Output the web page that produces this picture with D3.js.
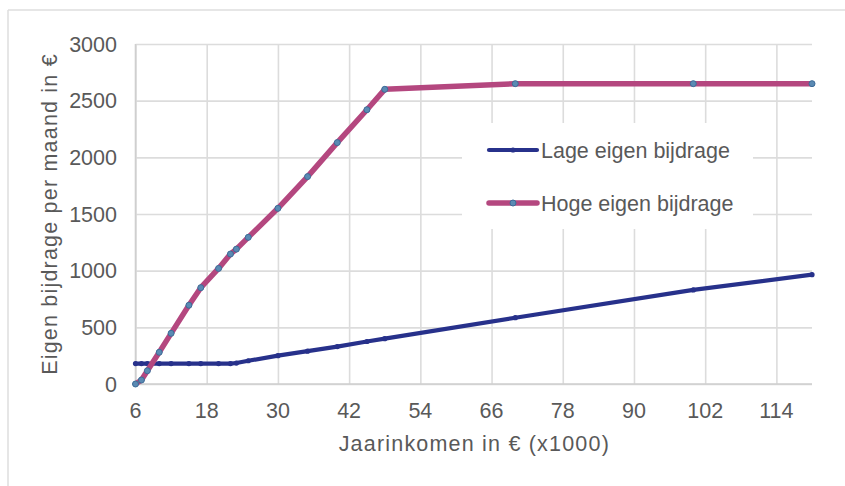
<!DOCTYPE html>
<html>
<head>
<meta charset="utf-8">
<script src="https://cdn.jsdelivr.net/npm/d3@7"></script>
<style>
  html, body { margin: 0; padding: 0; background: #ffffff; }
  svg { display: block; }
  text { font-family: "Liberation Sans", Arial, sans-serif; fill: #595959; }
</style>
</head>
<body>
<svg id="chart" width="845" height="486"></svg>
<script>
// ---- data ----
const incomes = [6, 7, 8, 10, 12, 15, 17, 20, 22, 23, 25, 30, 35, 40, 45, 48, 70, 100, 120];
const lageValues = [180, 180, 180, 180, 180, 180, 180, 180, 180, 185, 205, 250, 290, 330, 375, 400, 585, 830, 965];
const hogeValues = [0, 35, 117, 280, 447, 695, 850, 1020, 1147, 1190, 1294, 1550, 1830, 2130, 2420, 2600, 2650, 2650, 2650];
const xTicks = [6, 18, 30, 42, 54, 66, 78, 90, 102, 114];
const yTicks = [0, 500, 1000, 1500, 2000, 2500, 3000];
const seriesNames = ["Lage eigen bijdrage", "Hoge eigen bijdrage"];
const xTitle = "Jaarinkomen in € (x1000)";
const yTitle = "Eigen bijdrage per maand in €";

// ---- layout ----
const svg = d3.select("#chart");
const pLeft = 135.5, pRight = 812, pTop = 44, pBottom = 384;
const x = d3.scaleLinear().domain([6, 120]).range([pLeft, pRight]);
const y = d3.scaleLinear().domain([0, 3000]).range([pBottom, pTop]);

const lageColor = "#27318b";
const hogeColor = "#b4477f";
const markerFill = "#5a8ab3";
const markerStroke = "#3c6c98";
const grid = "#dcdcdc";
const FS = 21;

// outer frame (left and top edges visible)
svg.append("line").attr("x1", 8).attr("x2", 8).attr("y1", 10).attr("y2", 486)
  .attr("stroke", "#dedede").attr("stroke-width", 1.5);
svg.append("line").attr("x1", 8).attr("x2", 845).attr("y1", 10).attr("y2", 10)
  .attr("stroke", "#dedede").attr("stroke-width", 1.5);

// gridlines via axes
const gx = svg.append("g").attr("transform", `translate(0,${pBottom})`)
  .call(d3.axisBottom(x).tickValues(xTicks).tickSize(-(pBottom - pTop)).tickFormat(""));
gx.select(".domain").remove();
gx.selectAll(".tick line").attr("stroke", grid).attr("stroke-width", 1.6);

const gy = svg.append("g").attr("transform", `translate(${pLeft},0)`)
  .call(d3.axisLeft(y).tickValues(yTicks).tickSize(-(pRight - pLeft)).tickFormat(""));
gy.select(".domain").remove();
gy.selectAll(".tick line").attr("stroke", grid).attr("stroke-width", 1.6);

// axis lines
svg.append("line").attr("x1", pLeft).attr("x2", pLeft).attr("y1", pTop).attr("y2", pBottom)
  .attr("stroke", "#cfcfcf").attr("stroke-width", 1.6);
svg.append("line").attr("x1", pLeft).attr("x2", pRight).attr("y1", pBottom).attr("y2", pBottom)
  .attr("stroke", "#cfcfcf").attr("stroke-width", 1.6);

// tick labels
svg.append("g").selectAll("text").data(yTicks).join("text")
  .attr("x", 117).attr("y", d => y(d)).attr("dy", "0.36em")
  .attr("text-anchor", "end").attr("font-size", 21.5).text(d => d);
svg.append("g").selectAll("text").data(xTicks).join("text")
  .attr("x", d => x(d)).attr("y", 418)
  .attr("text-anchor", "middle").attr("font-size", 21.5).text(d => d);

// axis titles
svg.append("text").attr("x", (pLeft + pRight) / 2 + 0.6).attr("y", 451)
  .attr("text-anchor", "middle").attr("font-size", 21.5).attr("letter-spacing", 1.2).text(xTitle);
svg.append("text").attr("transform", `translate(57,${(pTop + pBottom) / 2}) rotate(-90)`)
  .attr("text-anchor", "middle").attr("font-size", 21.5).attr("letter-spacing", 1.2).text(yTitle);

// legend background (hides gridlines)
svg.append("rect").attr("x", 462).attr("y", 123).attr("width", 291).attr("height", 106)
  .attr("fill", "#ffffff");

// lines
const line = d3.line().x(d => x(d[0])).y(d => y(d[1]));
const lageData = incomes.map((v, i) => [v, lageValues[i]]);
const hogeData = incomes.map((v, i) => [v, hogeValues[i]]);

svg.append("path").datum(lageData).attr("d", line).attr("fill", "none")
  .attr("stroke", lageColor).attr("stroke-width", 4.2).attr("stroke-linejoin", "round").attr("stroke-linecap", "round");
svg.append("g").selectAll("circle").data(lageData).join("circle")
  .attr("cx", d => x(d[0])).attr("cy", d => y(d[1])).attr("r", 2.6).attr("fill", lageColor);

svg.append("path").datum(hogeData).attr("d", line).attr("fill", "none")
  .attr("stroke", hogeColor).attr("stroke-width", 5.5).attr("stroke-linejoin", "round").attr("stroke-linecap", "round");
svg.append("g").selectAll("circle").data(hogeData).join("circle")
  .attr("cx", d => x(d[0])).attr("cy", d => y(d[1])).attr("r", 3)
  .attr("fill", markerFill).attr("stroke", markerStroke).attr("stroke-width", 1);

// legend
const legendY = [150, 203];
const legendColors = [lageColor, hogeColor];
seriesNames.forEach((name, i) => {
  const g = svg.append("g");
  g.append("line").attr("x1", 489).attr("x2", 537).attr("y1", legendY[i]).attr("y2", legendY[i])
    .attr("stroke", legendColors[i]).attr("stroke-width", i === 0 ? 4.2 : 5.5).attr("stroke-linecap", "round");
  if (i === 0) {
    g.append("circle").attr("cx", 513).attr("cy", legendY[i]).attr("r", 2.6).attr("fill", lageColor);
  } else {
    g.append("circle").attr("cx", 513).attr("cy", legendY[i]).attr("r", 3)
      .attr("fill", markerFill).attr("stroke", markerStroke).attr("stroke-width", 1);
  }
  g.append("text").attr("x", 541).attr("y", legendY[i]).attr("dy", "0.36em")
    .attr("font-size", 21.5).text(name);
});
</script>
</body>
</html>
